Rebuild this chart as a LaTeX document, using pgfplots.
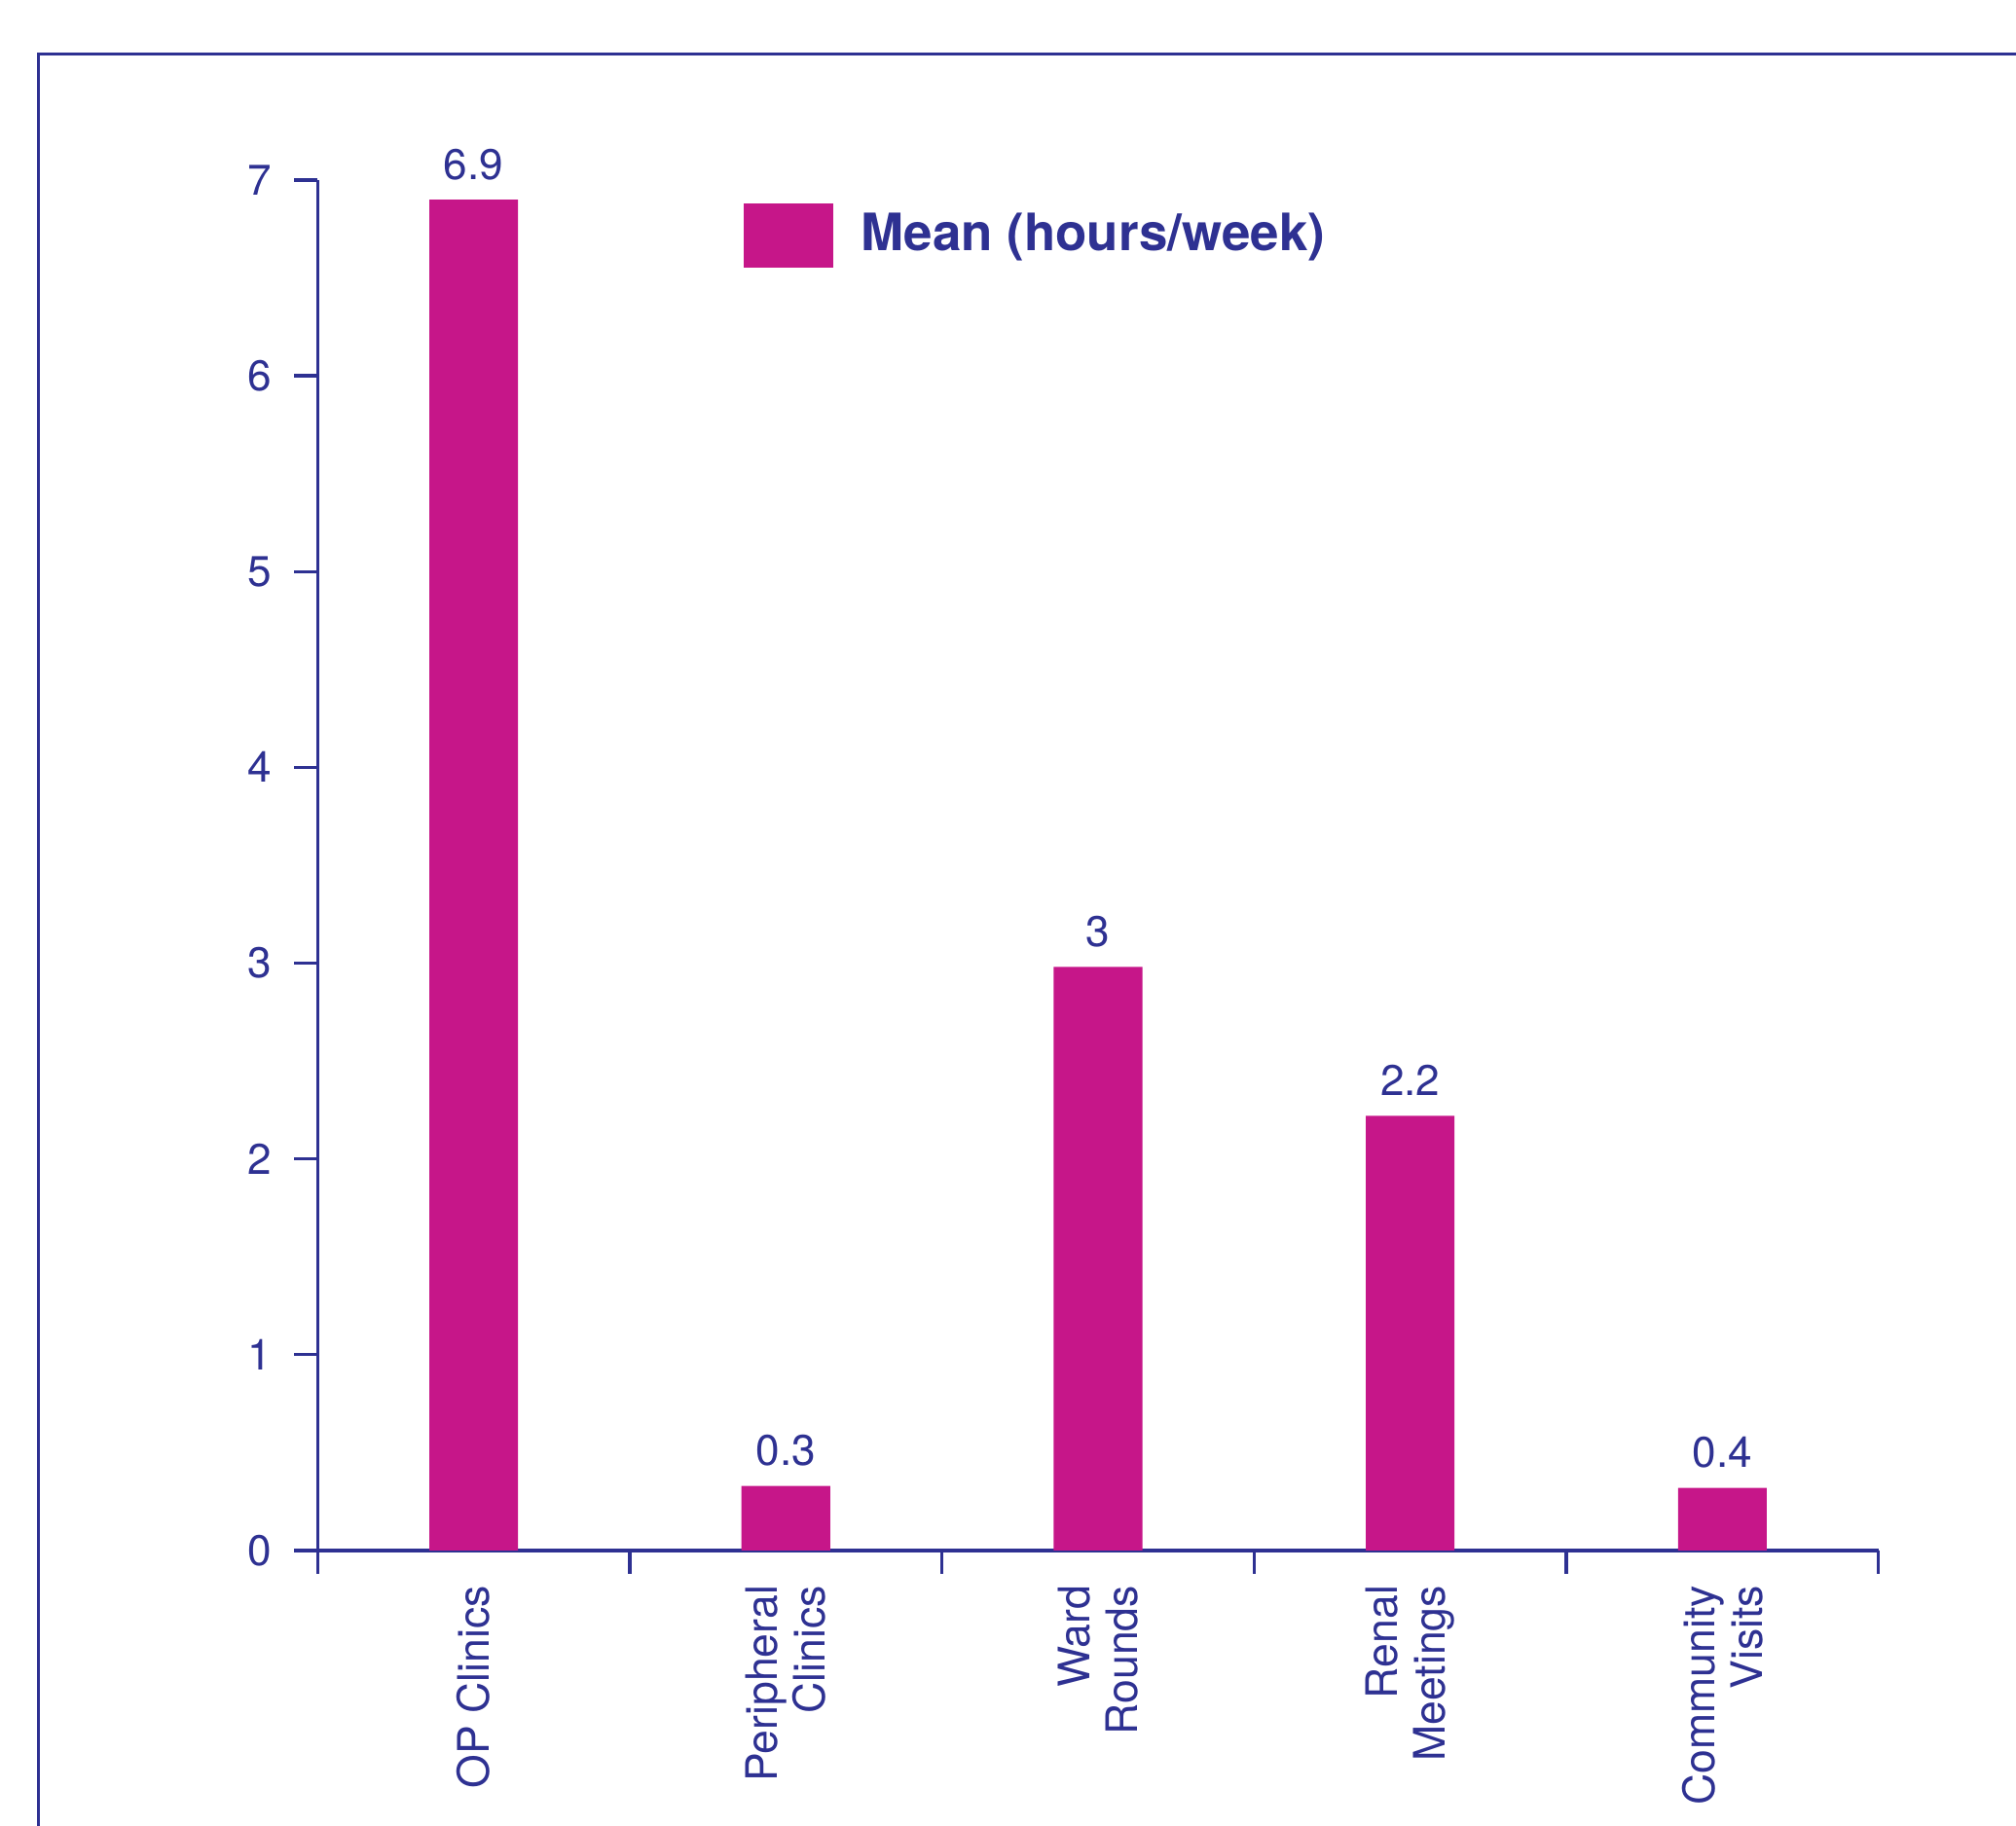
\documentclass[border=0pt]{standalone}
\usepackage{pgfplots}
\pgfplotsset{compat=1.18}
\usepackage{fontspec}
\setmainfont{TeX Gyre Heros}
\definecolor{nblue}{RGB}{46,49,146}
\definecolor{nmag}{RGB}{198,22,137}
\begin{document}
\begin{tikzpicture}
\useasboundingbox (0,0) rectangle (156.8mm,142mm);
\clip (0,0) rectangle (156.8mm,142mm);
\draw[nblue, line width=0.7pt] (3.0mm,-5mm) -- (3.0mm,137.8mm) -- (165mm,137.8mm);
\begin{axis}[
  at={(24.7mm,21.4mm)}, anchor=south west,
  scale only axis, width=121.4mm, height=106.6mm,
  xmin=-0.5, xmax=4.5, ymin=0, ymax=7,
  axis lines=left,
  axis line style={-, nblue, line width=0.7pt},
  every tick/.style={nblue, line width=0.7pt},
  tick align=outside,
  major tick length=1.8mm,
  ytick={0,1,2,3,4,5,6,7},
  xtick={-0.5,0.5,1.5,2.5,3.5,4.5},
  xticklabels={},
  extra x ticks={0,1,2,3,4},
  extra x tick labels={OP Clinics,Peripheral\\Clinics,Ward\\Rounds,Renal\\Meetings,Community\\Visits},
  extra x tick style={major tick length=0pt, tick style={draw=none},
    xticklabel style={yshift=-1.5mm, rotate=90, anchor=east, align=right, font=\fontsize{9.6}{10.6}\selectfont, text=nblue}},
  yticklabel style={font=\fontsize{9.5}{11}\selectfont, text=nblue, xshift=-0.5mm},
  /pgf/number format/assume math mode=true,
  ybar, bar width=6.9mm,
  point meta=explicit symbolic,
  nodes near coords,
  every node near coord/.append style={font=\fontsize{9.5}{11}\selectfont, text=nblue, yshift=0.3mm},
  legend style={at={(0.2727,0.9597)}, anchor=west, draw=none, fill=none, inner sep=0pt,
    font=\fontsize{11.4}{13}\selectfont\bfseries, text=nblue},
  legend cell align=left,
  legend image code/.code={\fill[nmag] (0mm,-2.5mm) rectangle (6.9mm,2.5mm); \path (8.4mm,0);},
]
\addplot[fill=nmag, draw=none] coordinates {(0,6.9)[6.9] (1,0.33)[0.3] (2,2.98)[3] (3,2.22)[2.2] (4,0.32)[0.4]};
\addlegendentry{Mean (hours/week)}
\end{axis}
\end{tikzpicture}
\end{document}
